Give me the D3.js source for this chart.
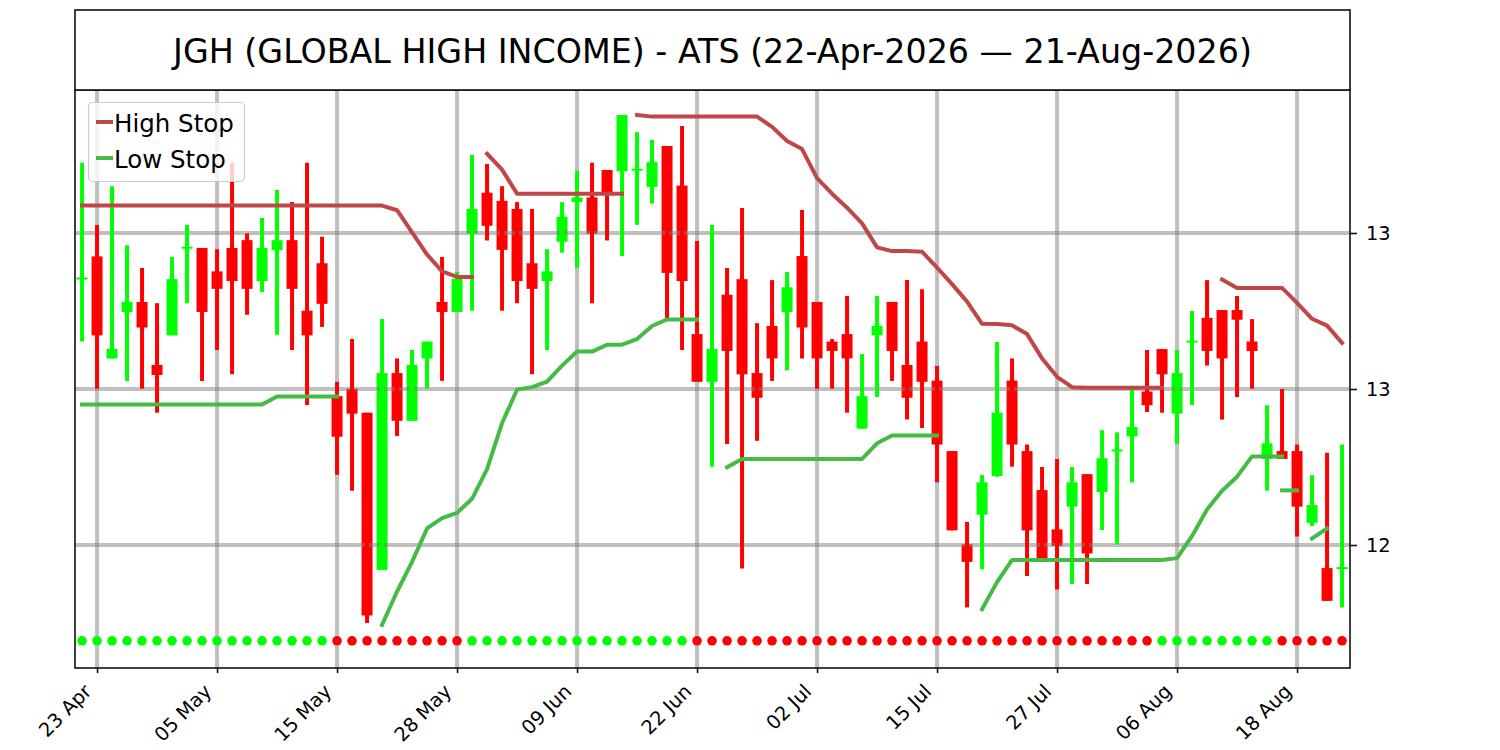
<!DOCTYPE html>
<html><head><meta charset="utf-8">
<script src="https://cdn.jsdelivr.net/npm/d3@7"></script>
<style>
body{margin:0;background:#fff;}
svg{display:block;font-family:"DejaVu Sans",sans-serif;}
</style>
</head><body>
<svg id="c" width="1500" height="750"></svg>
<script>
const titleText = "JGH (GLOBAL HIGH INCOME) - ATS (22-Apr-2026 \u2014 21-Aug-2026)";

const dates = [
"2026-04-22","2026-04-23","2026-04-24","2026-04-27","2026-04-28","2026-04-29","2026-04-30",
"2026-05-01","2026-05-04","2026-05-05","2026-05-06","2026-05-07","2026-05-08","2026-05-11","2026-05-12","2026-05-13","2026-05-14","2026-05-15","2026-05-18","2026-05-19","2026-05-20","2026-05-21","2026-05-22","2026-05-26","2026-05-27","2026-05-28","2026-05-29",
"2026-06-01","2026-06-02","2026-06-03","2026-06-04","2026-06-05","2026-06-08","2026-06-09","2026-06-10","2026-06-11","2026-06-12","2026-06-15","2026-06-16","2026-06-17","2026-06-18","2026-06-22","2026-06-23","2026-06-24","2026-06-25","2026-06-26","2026-06-29","2026-06-30",
"2026-07-01","2026-07-02","2026-07-06","2026-07-07","2026-07-08","2026-07-09","2026-07-10","2026-07-13","2026-07-14","2026-07-15","2026-07-16","2026-07-17","2026-07-20","2026-07-21","2026-07-22","2026-07-23","2026-07-24","2026-07-27","2026-07-28","2026-07-29","2026-07-30","2026-07-31",
"2026-08-03","2026-08-04","2026-08-05","2026-08-06","2026-08-07","2026-08-10","2026-08-11","2026-08-12","2026-08-13","2026-08-14","2026-08-17","2026-08-18","2026-08-19","2026-08-20","2026-08-21"
];

const openVals = [
13.350,13.425,13.098,13.247,13.279,13.077,13.172,13.449,13.452,13.377,
13.452,13.477,13.346,13.445,13.477,13.251,13.403,12.977,13.001,12.924,
12.420,13.051,12.898,13.098,13.279,13.247,13.498,13.629,13.603,13.577,
13.403,13.346,13.472,13.599,13.614,13.702,13.698,13.700,13.648,13.779,
13.652,13.176,13.023,13.302,13.352,13.051,13.202,13.247,13.426,13.279,
13.152,13.176,12.873,13.172,13.279,13.077,13.152,13.027,12.801,12.502,
12.597,12.721,13.027,12.801,12.676,12.550,12.623,12.727,12.670,12.800,
12.848,12.992,13.128,12.921,13.148,13.228,13.253,13.253,13.152,12.776,
12.801,12.801,12.571,12.426,12.421
];
const highVals = [
13.725,13.526,13.650,13.461,13.388,13.275,13.423,13.526,13.452,13.448,
13.725,13.499,13.548,13.638,13.599,13.725,13.488,13.023,13.160,12.924,
13.224,13.098,13.125,13.152,13.423,13.375,13.750,13.721,13.650,13.599,
13.577,13.448,13.599,13.699,13.725,13.702,13.878,13.823,13.798,13.779,
13.843,13.474,13.526,13.388,13.580,13.211,13.349,13.375,13.574,13.279,
13.160,13.298,13.112,13.298,13.279,13.349,13.320,13.074,12.801,12.574,
12.724,13.151,13.098,12.822,12.750,12.776,12.750,12.727,12.868,12.861,
13.000,13.125,13.128,13.125,13.250,13.349,13.253,13.298,13.224,12.948,
13.000,12.822,12.724,12.796,12.822
];
const lowVals = [
13.152,13.001,13.098,13.026,13.001,12.924,13.172,13.275,13.026,13.125,
13.047,13.238,13.311,13.174,13.125,12.949,13.199,12.725,12.674,12.250,
12.420,12.849,12.898,13.001,13.026,13.247,13.251,13.476,13.251,13.275,
13.047,13.125,13.437,13.389,13.275,13.476,13.426,13.526,13.594,13.224,
13.125,13.023,12.751,12.824,12.425,12.834,13.026,13.060,13.098,13.001,
13.001,12.924,12.873,12.974,13.026,12.902,12.875,12.701,12.547,12.300,
12.422,12.719,12.751,12.401,12.450,12.357,12.375,12.375,12.548,12.502,
12.701,12.926,12.924,12.824,12.949,13.075,12.902,12.974,13.001,12.674,
12.776,12.527,12.561,12.321,12.300
];
const closeVals = [
13.354,13.172,13.128,13.279,13.197,13.045,13.352,13.453,13.247,13.321,
13.346,13.321,13.452,13.477,13.321,13.172,13.273,12.847,12.921,12.274,
13.051,12.898,13.077,13.152,13.247,13.353,13.577,13.523,13.446,13.346,
13.321,13.377,13.552,13.614,13.498,13.629,13.878,13.703,13.727,13.372,
13.346,13.023,13.128,13.122,13.047,12.972,13.098,13.326,13.197,13.098,
13.122,13.098,12.977,13.202,13.122,12.972,13.023,12.822,12.547,12.446,
12.701,12.924,12.822,12.547,12.458,12.497,12.701,12.473,12.778,12.803,
12.878,12.948,13.047,13.051,13.152,13.122,13.098,13.222,13.122,12.826,
12.776,12.623,12.628,12.321,12.426
];

// stop lines (null = gap); second arrays hold segments that restart right after another one
const highStop = [
13.588,13.588,13.588,13.588,13.588,13.588,13.588,13.588,13.588,13.588,
13.588,13.588,13.588,13.588,13.588,13.588,13.588,13.588,13.588,13.588,
13.588,13.573,13.502,13.431,13.377,13.359,13.359,null,null,null,
null,null,null,null,null,null,null,13.878,13.873,13.873,
13.873,13.873,13.873,13.873,13.873,13.873,13.840,13.795,13.769,13.676,
13.626,13.581,13.531,13.454,13.442,13.442,13.440,13.389,13.336,13.280,
13.209,13.208,13.204,13.176,13.098,13.039,13.006,13.004,13.004,13.004,
13.004,13.004,13.004,null,null,null,13.351,13.324,13.324,13.324,
13.324,13.276,13.225,13.203,13.148
];
const highStop2 = [
null,null,null,null,null,null,null,null,null,null,
null,null,null,null,null,null,null,null,null,null,
null,null,null,null,null,null,null,13.754,13.703,13.626,
13.626,13.626,13.626,13.626,13.626,13.626,13.626,null,null,null,
null,null,null,null,null,null,null,null,null,null,
null,null,null,null,null,null,null,null,null,null,
null,null,null,null,null,null,null,null,null,null,
null,null,null,null,null,null,null,null,null,null,
null,null,null,null,null
];
const lowStop = [
12.950,12.950,12.950,12.950,12.950,12.950,12.950,12.950,12.950,12.950,
12.950,12.950,12.950,12.976,12.976,12.976,12.976,12.976,null,null,
12.244,12.351,12.446,12.553,12.586,12.603,12.648,12.743,12.891,12.998,
13.006,13.024,13.075,13.120,13.120,13.142,13.142,13.160,13.202,13.223,
13.223,13.223,null,12.749,12.776,12.776,12.776,12.776,12.776,12.776,
12.776,12.776,12.776,12.826,12.851,12.851,12.851,12.851,null,null,
12.294,12.381,12.452,12.452,12.452,12.452,12.452,12.452,12.452,12.452,
12.452,12.452,12.452,12.458,12.529,12.614,12.674,12.719,12.784,12.784,
12.784,null,12.521,12.553,null
];
const lowStop2 = [
null,null,null,null,null,null,null,null,null,null,
null,null,null,null,null,null,null,null,null,null,
null,null,null,null,null,null,null,null,null,null,
null,null,null,null,null,null,null,null,null,null,
null,null,null,null,null,null,null,null,null,null,
null,null,null,null,null,null,null,null,null,null,
null,null,null,null,null,null,null,null,null,null,
null,null,null,null,null,null,null,null,null,null,
12.675,12.675,null,null,null
];

// trend signal (1 = up / green dot, -1 = down / red dot)
const trend = [
1,1,1,1,1,1,1,1,1,1,
1,1,1,1,1,1,1,-1,-1,-1,
-1,-1,-1,-1,-1,-1,1,1,1,1,
1,1,1,1,1,1,1,1,1,1,
1,-1,-1,-1,-1,-1,-1,-1,-1,-1,
-1,-1,-1,-1,-1,-1,-1,-1,-1,-1,
-1,-1,-1,-1,-1,-1,-1,-1,-1,-1,
-1,-1,1,1,1,1,1,1,1,1,
-1,-1,-1,-1,-1
];
const signalLevel = 12.193;

const xTickDates = ["2026-04-23","2026-05-05","2026-05-15","2026-05-28","2026-06-09","2026-06-22","2026-07-02","2026-07-15","2026-07-27","2026-08-06","2026-08-18"];
const xTickLabels = ["23 Apr","05 May","15 May","28 May","09 Jun","22 Jun","02 Jul","15 Jul","27 Jul","06 Aug","18 Aug"];
const yTickValues = [12.5, 13.0, 13.5];
const yTickLabels = ["12","13","13"];

const seriesNames = ["High Stop","Low Stop"];

// ---------- drawing ----------
const svg = d3.select("#c");
const P = {left:75, right:1350, top:90, bottom:668};
const UP = "#00ff00", DOWN = "#ff0000";
const HS = "#bf4747", LS = "#45bb45";
const TICK_FS = 19.4;

const x = d3.scaleLinear().domain([-0.47, 84.53]).range([P.left, P.right]);
const y = d3.scaleLinear().domain([12.1058, 13.9583]).range([P.bottom, P.top]);

svg.append("rect").attr("width",1500).attr("height",750).attr("fill","#fff");
svg.append("defs").append("clipPath").attr("id","clip")
  .append("rect").attr("x",P.left).attr("y",P.top).attr("width",P.right-P.left).attr("height",P.bottom-P.top);

const g = svg.append("g").attr("clip-path","url(#clip)");
const idx = d3.range(dates.length);
const col = i => closeVals[i] >= openVals[i] ? UP : DOWN;
const bw = 11;

// bodies
g.append("g").selectAll("rect").data(idx).join("rect")
  .attr("x", i => x(i) - bw/2)
  .attr("y", i => Math.min(y(openVals[i]), y(closeVals[i])) - (Math.abs(y(openVals[i])-y(closeVals[i]))<2 ? 1 : 0))
  .attr("width", bw)
  .attr("height", i => Math.max(2, Math.abs(y(openVals[i]) - y(closeVals[i]))))
  .attr("fill", col);

// grid
const tickIdx = xTickDates.map(d => dates.indexOf(d));
const grid = g.append("g").attr("stroke","#808080").attr("stroke-opacity",0.5).attr("stroke-width",4);
grid.selectAll("line.v").data(tickIdx).join("line").attr("class","v")
  .attr("x1", i => x(i)).attr("x2", i => x(i)).attr("y1", P.top).attr("y2", P.bottom);
grid.selectAll("line.h").data(yTickValues).join("line").attr("class","h")
  .attr("x1", P.left).attr("x2", P.right).attr("y1", v => y(v)).attr("y2", v => y(v));

// wicks
g.append("g").selectAll("line").data(idx).join("line")
  .attr("x1", i => x(i)).attr("x2", i => x(i))
  .attr("y1", i => y(highVals[i])).attr("y2", i => y(lowVals[i]))
  .attr("stroke", col).attr("stroke-width", 4);

// stop lines
const line = d3.line().defined(d => d[1] != null).x(d => x(d[0])).y(d => y(d[1]));
[[highStop,HS],[highStop2,HS],[lowStop,LS],[lowStop2,LS]].forEach(([arr,c]) => {
  g.append("path").datum(arr.map((v,i)=>[i,v]))
    .attr("d", line).attr("fill","none").attr("stroke",c).attr("stroke-width",4)
    .attr("stroke-linecap","square").attr("stroke-linejoin","round");
});

// trend dots
g.append("g").selectAll("circle").data(idx).join("circle")
  .attr("cx", i => x(i)).attr("cy", y(signalLevel)).attr("r", 4.8)
  .attr("fill", i => trend[i] > 0 ? UP : DOWN);

// frame
svg.append("rect").attr("x",P.left).attr("y",P.top).attr("width",P.right-P.left).attr("height",P.bottom-P.top)
  .attr("fill","none").attr("stroke","#111").attr("stroke-width",1.6);

// x axis
const xAxis = d3.axisBottom(x).tickValues(tickIdx).tickSize(5).tickFormat("");
const xa = svg.append("g").attr("transform",`translate(0,${P.bottom})`).call(xAxis);
xa.select(".domain").remove();
xa.selectAll(".tick line").attr("stroke","#111").attr("stroke-width",1.6);
svg.append("g").selectAll("text").data(tickIdx).join("text")
  .attr("transform", (i) => `translate(${x(i)-9},${P.bottom+20}) rotate(-45)`)
  .attr("text-anchor","end").attr("dominant-baseline","central")
  .attr("font-size",TICK_FS).attr("fill","#000")
  .text((i,k) => xTickLabels[k]);

// y axis (right)
const yAxis = d3.axisRight(y).tickValues(yTickValues).tickSize(7).tickPadding(9)
  .tickFormat((v,k) => yTickLabels[k]);
const ya = svg.append("g").attr("transform",`translate(${P.right},0)`).call(yAxis);
ya.select(".domain").remove();
ya.selectAll(".tick line").attr("stroke","#111").attr("stroke-width",1.6);
ya.selectAll(".tick text").attr("font-size",TICK_FS).attr("font-family","DejaVu Sans").attr("fill","#000");

// title box
svg.append("rect").attr("x",P.left).attr("y",10).attr("width",P.right-P.left).attr("height",P.top-10)
  .attr("fill","#fff").attr("stroke","#111").attr("stroke-width",1.6);
svg.append("text").attr("x",(P.left+P.right)/2).attr("y",51)
  .attr("text-anchor","middle").attr("dominant-baseline","central")
  .attr("font-size",33.3).attr("fill","#000").text(titleText);

// legend
const lg = svg.append("g");
lg.append("rect").attr("x",88.5).attr("y",102.5).attr("width",156).attr("height",79).attr("rx",4)
  .attr("fill","#fff").attr("fill-opacity",0.8).attr("stroke","#cccccc").attr("stroke-width",1.2);
[[seriesNames[0],HS,122],[seriesNames[1],LS,158]].forEach(([t,c,yy]) => {
  lg.append("line").attr("x1",96).attr("x2",113).attr("y1",yy).attr("y2",yy)
    .attr("stroke",c).attr("stroke-width",4);
  lg.append("text").attr("x",114).attr("y",yy+1).attr("dominant-baseline","central")
    .attr("font-size",24.5).attr("fill","#000").text(t);
});
</script>
</body></html>
